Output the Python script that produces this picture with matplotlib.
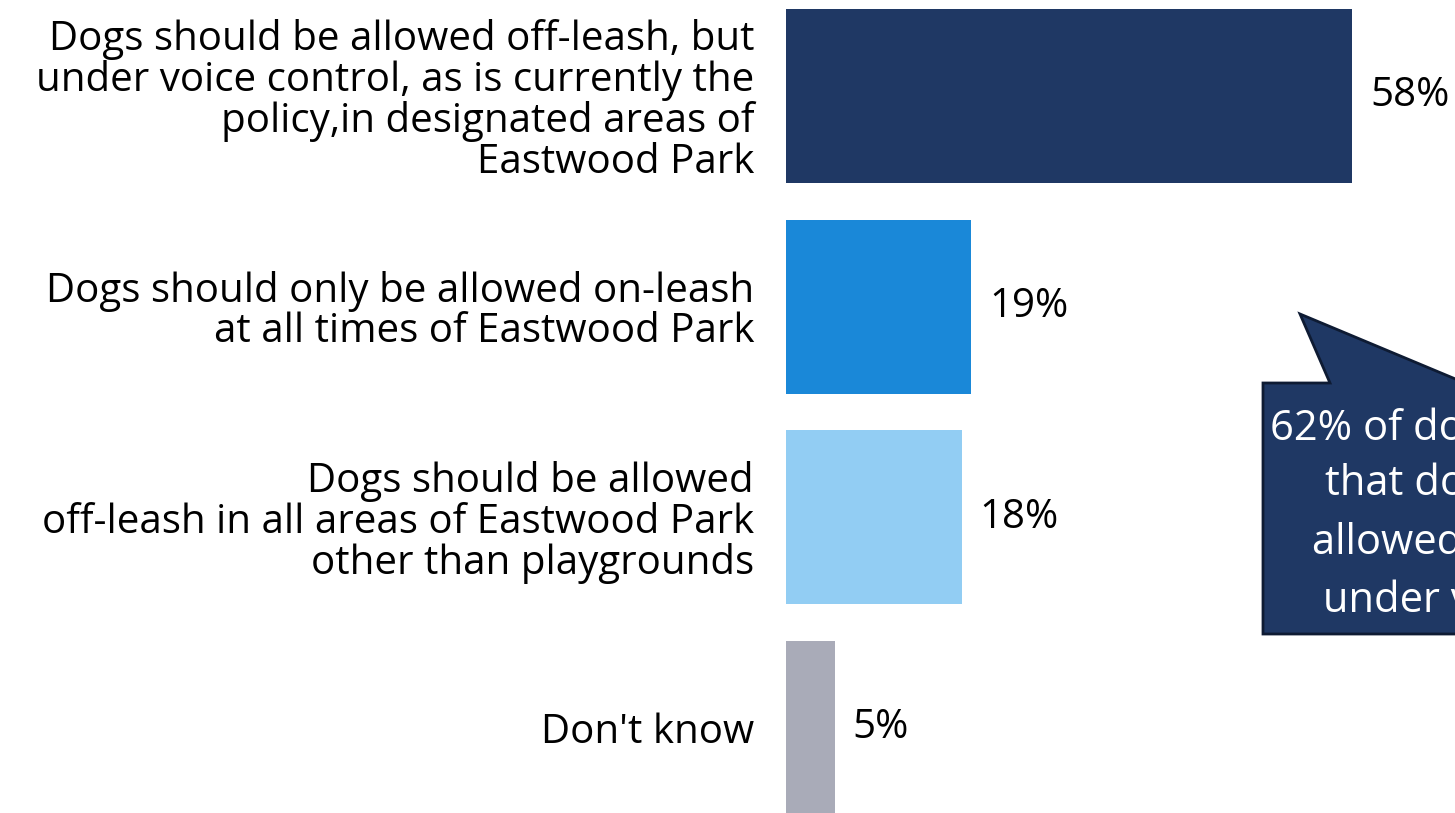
import matplotlib.pyplot as plt
from matplotlib.patches import Polygon

plt.rcParams['font.family'] = ['Open Sans', 'DejaVu Sans']

categories = [
    "Dogs should be allowed off-leash, but\nunder voice control, as is currently the\npolicy,in designated areas of\nEastwood Park",
    "Dogs should only be allowed on-leash\nat all times of Eastwood Park",
    "Dogs should be allowed\noff-leash in all areas of Eastwood Park\nother than playgrounds",
    "Don't know",
]
values = [58, 19, 18, 5]
colors = ["#1F3864", "#1A88D8", "#92CDF3", "#A9ABB8"]
callout_lines = ["62% of dog owners", "that dogs should", "allowed off-leash,", "under voice control"]

W, H = 1455, 813
fig = plt.figure(figsize=(W / 100, H / 100), dpi=100)

# bar area: zero at x=786 px, 9.76 px per percent
x0 = 786
ppu = 9.76
ax = fig.add_axes([x0 / W, 0, 1 - x0 / W, 1])
pos = list(range(len(values)))
bars = ax.barh(pos, values, height=0.826, color=colors)
ax.set_xlim(0, (W - x0) / ppu)
ax.set_ylim((H - 96) / 210.7, -96 / 210.7)

ax.set_yticks(pos)
ax.set_yticklabels(categories, fontsize=29, ha='right')
for lab in ax.get_yticklabels():
    lab.set_linespacing(1.0)
ax.tick_params(axis='y', length=0, pad=23)
ax.set_xticks([])
for s in ax.spines.values():
    s.set_visible(False)

ax.bar_label(bars, labels=[f"{v}%" for v in values], padding=13, fontsize=29)

# callout shape, pixel coordinates
ov = fig.add_axes([0, 0, 1, 1], zorder=5)
ov.set_xlim(0, W)
ov.set_ylim(H, 0)
ov.axis('off')
shape = [(1263, 634), (1263, 383), (1330, 383), (1300, 314),
         (1465, 383), (1540, 383), (1540, 634)]
ov.add_patch(Polygon(shape, closed=True, facecolor="#1F3864",
                     edgecolor="#0E1B33", linewidth=2))
starts = [1270, 1325, 1312, 1323]
bases = [440, 495, 554, 612]
for txt, xs, yb in zip(callout_lines, starts, bases):
    ov.text(xs, yb, txt, color='white', fontsize=30, ha='left', va='baseline')

fig.savefig("out.png", dpi=100)
